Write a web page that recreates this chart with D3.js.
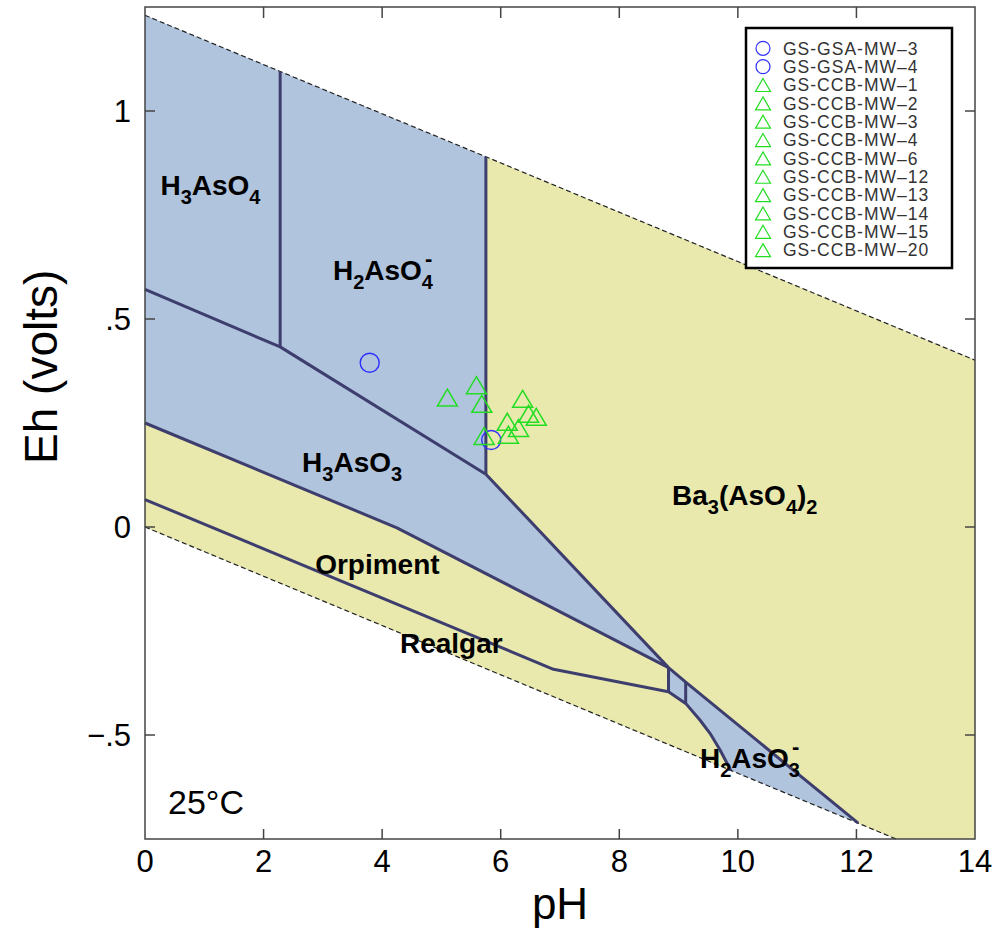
<!DOCTYPE html>
<html>
<head>
<meta charset="utf-8">
<script src="https://cdn.jsdelivr.net/npm/d3@7"></script>
<style>
  html, body { margin: 0; padding: 0; background: #fff; }
  svg { display: block; }
</style>
</head>
<body>
<svg id="chart" width="996" height="932"></svg>
<script>
// ---------------- DATA (pH, Eh in volts) ----------------
const xTicks = [0, 2, 4, 6, 8, 10, 12, 14];
const xTickLabels = ["0", "2", "4", "6", "8", "10", "12", "14"];
const yTicks = [1, 0.5, 0, -0.5];
const yTickLabels = ["1", ".5", "0", "\u2212.5"];

// stability limits of water (dashed)
const waterUpper = [[0, 1.23], [2.28, 1.095], [5.75, 0.890], [14, 0.401]];
const waterLower = [[0, 0], [9.88, -0.585], [12.03, -0.712], [12.67, -0.75]];

// predominance / stability fields
const fieldAqueous = [[0, 1.23], [14, 0.401], [14, -0.75], [12.67, -0.75], [0, 0]];
const fieldBa3AsO4 = [[5.75, 0.890], [14, 0.401], [14, -0.75], [12.67, -0.75], [12.03, -0.712],
                      [9.12, -0.373], [8.83, -0.338], [5.75, 0.127]];
const fieldOrpiment = [[0, 0.25], [4.25, -0.002], [8.83, -0.338], [8.83, -0.396], [6.89, -0.342], [0, 0.066]];
const fieldRealgar = [[0, 0.066], [6.89, -0.342], [8.83, -0.396], [9.12, -0.424], [9.36, -0.464],
                      [9.53, -0.496], [9.70, -0.536], [9.88, -0.585], [0, 0]];

// field boundaries (solid)
const boundaries = [
  [[2.28, 1.095], [2.28, 0.433]],
  [[0, 0.571], [2.28, 0.433], [5.75, 0.127]],
  [[5.75, 0.890], [5.75, 0.127]],
  [[5.75, 0.127], [8.83, -0.338], [9.12, -0.373], [12.03, -0.712]],
  [[0, 0.25], [4.25, -0.002], [8.83, -0.338]],
  [[0, 0.066], [6.89, -0.342], [8.83, -0.396], [9.12, -0.424], [9.36, -0.464], [9.53, -0.496], [9.70, -0.536], [9.88, -0.585]],
  [[8.83, -0.338], [8.83, -0.396]],
  [[9.12, -0.373], [9.12, -0.424]]
];

// samples
const gsaNames = ["GS-GSA-MW\u20133", "GS-GSA-MW\u20134"];
const gsaPH = [3.79, 5.84];
const gsaEh = [0.395, 0.209];

const ccbNames = ["GS-CCB-MW\u20131", "GS-CCB-MW\u20132", "GS-CCB-MW\u20133", "GS-CCB-MW\u20134", "GS-CCB-MW\u20136",
                  "GS-CCB-MW\u201312", "GS-CCB-MW\u201313", "GS-CCB-MW\u201314", "GS-CCB-MW\u201315", "GS-CCB-MW\u201320"];
const ccbPH = [5.10, 5.59, 5.68, 5.72, 6.37, 6.47, 6.60, 6.11, 6.30, 6.13];
const ccbEh = [0.311, 0.341, 0.296, 0.219, 0.308, 0.272, 0.265, 0.253, 0.238, 0.222];

// field labels: parts [text, mode] mode: n normal, s subscript, ss subscript with superscript minus
const fieldLabels = [
  { pH: 0.26, Eh: 0.798, parts: [["H", "n"], ["3", "s"], ["AsO", "n"], ["4", "s"]] },
  { pH: 3.17, Eh: 0.594, parts: [["H", "n"], ["2", "s"], ["AsO", "n"], ["4", "ss"]] },
  { pH: 2.65, Eh: 0.133, parts: [["H", "n"], ["3", "s"], ["AsO", "n"], ["3", "s"]] },
  { pH: 8.89, Eh: 0.053, parts: [["Ba", "n"], ["3", "s"], ["(AsO", "n"], ["4", "s"], [")", "n"], ["2", "s"]] },
  { pH: 2.87, Eh: -0.113, parts: [["Orpiment", "n"]] },
  { pH: 4.30, Eh: -0.304, parts: [["Realgar", "n"]] },
  { pH: 9.36, Eh: -0.579, parts: [["H", "n"], ["2", "s"], ["AsO", "n"], ["3", "ss"]] }
];

// ---------------- CHART ----------------
const svg = d3.select("#chart");
const x = d3.scaleLinear().domain([0, 14]).range([145, 975]);
const y = d3.scaleLinear().domain([-0.75, 1.25]).range([839, 7]);

const BLUE = "#b0c4de", YELLOW = "#e9e9ad", LINE = "#3e3e6e";
const line = d3.line().x(d => x(d[0])).y(d => y(d[1]));
const poly = pts => line(pts) + "Z";

svg.append("path").attr("d", poly(fieldAqueous)).attr("fill", BLUE);
[fieldBa3AsO4, fieldOrpiment, fieldRealgar].forEach(f =>
  svg.append("path").attr("d", poly(f)).attr("fill", YELLOW));

// water lines
[waterUpper, waterLower].forEach(w =>
  svg.append("path").attr("d", line(w)).attr("fill", "none")
    .attr("stroke", "#222").attr("stroke-width", 1.2).attr("stroke-dasharray", "5,3"));

// boundaries
boundaries.forEach(b =>
  svg.append("path").attr("d", line(b)).attr("fill", "none")
    .attr("stroke", LINE).attr("stroke-width", 3).attr("stroke-linejoin", "round"));

// field labels
const LF = "'Liberation Sans', Arial, sans-serif";
fieldLabels.forEach(l => {
  const t = svg.append("text").attr("x", x(l.pH)).attr("y", y(l.Eh))
    .attr("font-family", LF).attr("font-weight", "bold").attr("font-size", 28).attr("fill", "#000");
  let shifted = false;
  l.parts.forEach(([s, m]) => {
    const sp = t.append("tspan").text(s);
    if (m === "n") {
      sp.attr("font-size", 28);
      if (shifted) { sp.attr("dy", -9); shifted = false; }
    } else {
      sp.attr("font-size", 20);
      if (!shifted) { sp.attr("dy", 9); shifted = true; }
      if (m === "ss") {
        t.append("tspan").text("-").attr("font-size", 22).attr("dx", -8).attr("dy", -23);
        shifted = false;
      }
    }
  });
});

// 25°C
svg.append("text").attr("x", 168).attr("y", 814).attr("font-family", LF)
  .attr("font-size", 34).attr("fill", "#000").text("25\u00B0C");

// frame and ticks
const AX = "#444";
const g = svg.append("g").attr("stroke", AX).attr("stroke-width", 1.5);
g.append("rect").attr("x", x(0)).attr("y", y(1.25)).attr("width", x(14) - x(0))
  .attr("height", y(-0.75) - y(1.25)).attr("fill", "none");
xTicks.slice(1, -1).forEach(v => {
  g.append("line").attr("x1", x(v)).attr("x2", x(v)).attr("y1", y(-0.75)).attr("y2", y(-0.75) - 10);
  g.append("line").attr("x1", x(v)).attr("x2", x(v)).attr("y1", y(1.25)).attr("y2", y(1.25) + 11);
});
yTicks.forEach(v => {
  g.append("line").attr("x1", x(0)).attr("x2", x(0) + 10).attr("y1", y(v)).attr("y2", y(v));
  g.append("line").attr("x1", x(14)).attr("x2", x(14) - 10).attr("y1", y(v)).attr("y2", y(v));
});

xTicks.forEach((v, i) =>
  svg.append("text").attr("x", x(v)).attr("y", 872).attr("text-anchor", "middle")
    .attr("font-family", LF).attr("font-size", 31).attr("fill", "#000").text(xTickLabels[i]));
yTicks.forEach((v, i) =>
  svg.append("text").attr("x", 131).attr("y", y(v) + 11).attr("text-anchor", "end")
    .attr("font-family", LF).attr("font-size", 31).attr("fill", "#000").text(yTickLabels[i]));

svg.append("text").attr("x", x(7)).attr("y", 919).attr("text-anchor", "middle")
  .attr("font-family", LF).attr("font-size", 44).attr("fill", "#000").text("pH");
svg.append("text").attr("transform", `translate(57,${y(0.385)}) rotate(-90)`)
  .attr("text-anchor", "middle").attr("font-family", LF).attr("font-size", 46)
  .attr("fill", "#000").text("Eh (volts)");

// sample markers
const CIRC = "#3030ff", TRI = "#22dd22";
const triPath = (w, h) => `M0,${-h / 2}L${w / 2},${h / 2}L${-w / 2},${h / 2}Z`;
gsaPH.forEach((p, i) =>
  svg.append("circle").attr("cx", x(p)).attr("cy", y(gsaEh[i])).attr("r", 9.5)
    .attr("fill", "none").attr("stroke", CIRC).attr("stroke-width", 1.4));
ccbPH.forEach((p, i) =>
  svg.append("path").attr("d", triPath(20, 17))
    .attr("transform", `translate(${x(p)},${y(ccbEh[i])})`)
    .attr("fill", "none").attr("stroke", TRI).attr("stroke-width", 1.5));

// legend
const lg = svg.append("g");
lg.append("rect").attr("x", 746).attr("y", 28).attr("width", 206).attr("height", 240)
  .attr("fill", "#fff").attr("stroke", "#000").attr("stroke-width", 2.5);
const legendItems = gsaNames.map(n => ({ n, k: "c" })).concat(ccbNames.map(n => ({ n, k: "t" })));
legendItems.forEach((it, i) => {
  const cy = 48.3 + i * 18.35;
  if (it.k === "c") {
    lg.append("circle").attr("cx", 763).attr("cy", cy).attr("r", 7)
      .attr("fill", "none").attr("stroke", CIRC).attr("stroke-width", 1.2);
  } else {
    lg.append("path").attr("d", triPath(15, 13)).attr("transform", `translate(763,${cy})`)
      .attr("fill", "none").attr("stroke", TRI).attr("stroke-width", 1.2);
  }
  lg.append("text").attr("x", 783).attr("y", cy + 6.3).attr("font-family", LF)
    .attr("font-size", 17.5).attr("letter-spacing", 1).attr("fill", "#333").text(it.n);
});
</script>
</body>
</html>
